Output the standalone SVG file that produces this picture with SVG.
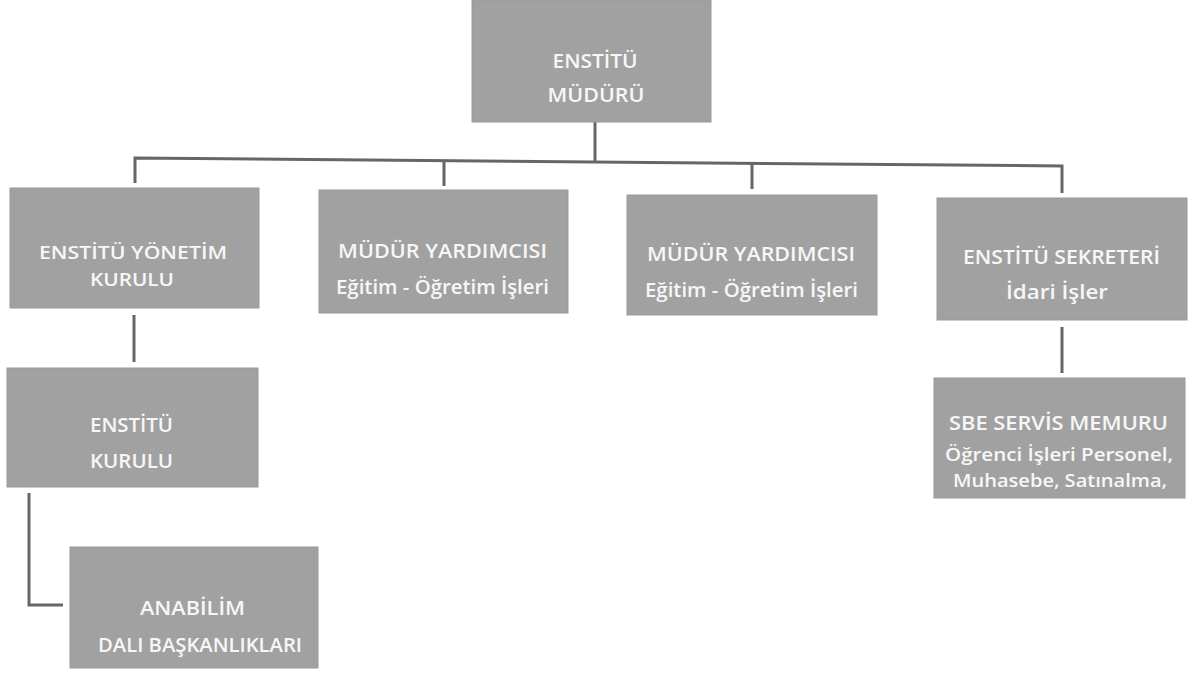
<svg xmlns="http://www.w3.org/2000/svg" width="1196" height="673" viewBox="0 0 1196 673">
<style>
.box{fill:#a1a1a1;stroke:#999;stroke-width:1}
.t{font-family:"Open Sans","Liberation Sans",sans-serif;font-weight:600;font-size:20px;fill:#f7f7f7;text-anchor:middle}
.s{font-size:18px}
.c{fill:none;stroke:#666;stroke-width:3;stroke-linejoin:miter}
</style>
<rect width="1196" height="673" fill="#ffffff"/>
<g id="connectors">
<path class="c" d="M595 122 V161"/>
<path class="c" d="M135 183 V158 L1062 166 V193"/>
<path class="c" d="M444 160 V186"/>
<path class="c" d="M752 163 V189"/>
<path class="c" d="M134 315 V362"/>
<path class="c" d="M1062 327 V373"/>
<path class="c" d="M29 493 V605 H63"/>
</g>
<g id="enstitu-muduru">
<rect class="box" x="472" y="0" width="239" height="122"/>
<text class="t" x="595" y="68" textLength="85" lengthAdjust="spacingAndGlyphs">ENSTİTÜ</text>
<text class="t" x="596" y="102" textLength="97" lengthAdjust="spacingAndGlyphs">MÜDÜRÜ</text>
</g>
<g id="yonetim-kurulu">
<rect class="box" x="10" y="188" width="249" height="120"/>
<text class="t s" x="133" y="259" textLength="188" lengthAdjust="spacingAndGlyphs">ENSTİTÜ YÖNETİM</text>
<text class="t s" x="132" y="286" textLength="84" lengthAdjust="spacingAndGlyphs">KURULU</text>
</g>
<g id="mudur-yardimcisi-1">
<rect class="box" x="319" y="190" width="249" height="123"/>
<text class="t" x="442.5" y="258" textLength="209" lengthAdjust="spacingAndGlyphs">MÜDÜR YARDIMCISI</text>
<text class="t" x="442.5" y="294" textLength="213" lengthAdjust="spacingAndGlyphs">Eğitim - Öğretim İşleri</text>
</g>
<g id="mudur-yardimcisi-2">
<rect class="box" x="627" y="195" width="250" height="120"/>
<text class="t" x="751" y="261" textLength="208" lengthAdjust="spacingAndGlyphs">MÜDÜR YARDIMCISI</text>
<text class="t" x="751.5" y="297" textLength="213" lengthAdjust="spacingAndGlyphs">Eğitim - Öğretim İşleri</text>
</g>
<g id="enstitu-sekreteri">
<rect class="box" x="937" y="198" width="250" height="122"/>
<text class="t" x="1061.5" y="264" textLength="197" lengthAdjust="spacingAndGlyphs">ENSTİTÜ SEKRETERİ</text>
<text class="t" x="1057" y="299" textLength="102" lengthAdjust="spacingAndGlyphs">İdari İşler</text>
</g>
<g id="enstitu-kurulu">
<rect class="box" x="7" y="368" width="251" height="119"/>
<text class="t" x="131.5" y="432" textLength="83" lengthAdjust="spacingAndGlyphs">ENSTİTÜ</text>
<text class="t" x="131.5" y="468" textLength="83" lengthAdjust="spacingAndGlyphs">KURULU</text>
</g>
<g id="anabilim-dali">
<rect class="box" x="70" y="547" width="248" height="121"/>
<text class="t" x="192.5" y="615" textLength="105" lengthAdjust="spacingAndGlyphs">ANABİLİM</text>
<text class="t" x="200" y="652" textLength="204" lengthAdjust="spacingAndGlyphs">DALI BAŞKANLIKLARI</text>
</g>
<g id="sbe-servis-memuru">
<rect class="box" x="934" y="378" width="251" height="120"/>
<text class="t" x="1058.5" y="430" textLength="219" lengthAdjust="spacingAndGlyphs">SBE SERVİS MEMURU</text>
<text class="t s" x="1059" y="461" textLength="228" lengthAdjust="spacingAndGlyphs">Öğrenci İşleri Personel,</text>
<text class="t s" x="1060" y="487" textLength="214" lengthAdjust="spacingAndGlyphs">Muhasebe, Satınalma,</text>
</g>
</svg>
